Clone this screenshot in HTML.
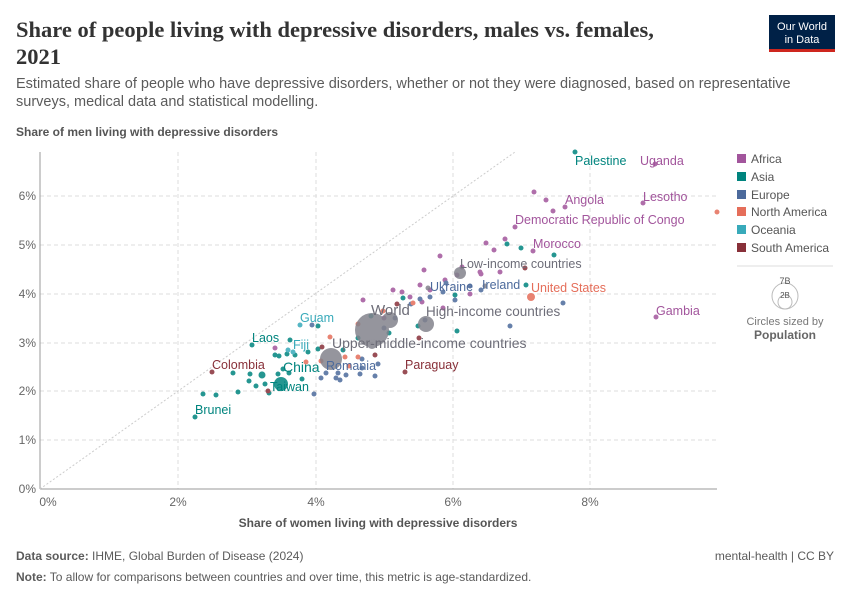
<!DOCTYPE html>
<html><head><meta charset="utf-8"><style>
body{margin:0;background:#fff;}
</style></head><body>
<svg width="850" height="600" viewBox="0 0 850 600" xmlns="http://www.w3.org/2000/svg" font-family="Liberation Sans, sans-serif">
<text x="16" y="37" style="font-family:'Liberation Serif',serif" font-size="22.5" font-weight="bold" fill="#333">Share of people living with depressive disorders, males vs. females,</text>
<text x="16" y="64" style="font-family:'Liberation Serif',serif" font-size="22.5" font-weight="bold" fill="#333">2021</text>
<rect x="769" y="15" width="66" height="37" fill="#002147"/>
<rect x="769" y="49" width="66" height="3" fill="#ce261e"/>
<text x="802" y="30" font-size="11" fill="#fff" text-anchor="middle">Our World</text>
<text x="802" y="43" font-size="11" fill="#fff" text-anchor="middle">in Data</text>
<text x="16" y="88" font-size="14.5" fill="#5b5b5b">Estimated share of people who have depressive disorders, whether or not they were diagnosed, based on representative</text>
<text x="16" y="106" font-size="14.5" fill="#5b5b5b">surveys, medical data and statistical modelling.</text>
<text x="16" y="136" font-size="12" font-weight="bold" fill="#555">Share of men living with depressive disorders</text>
<g stroke="#ddd" stroke-dasharray="4,3" stroke-width="1">
<line x1="40" y1="440" x2="717" y2="440"/><line x1="40" y1="391" x2="717" y2="391"/><line x1="40" y1="343" x2="717" y2="343"/><line x1="40" y1="294" x2="717" y2="294"/><line x1="40" y1="245" x2="717" y2="245"/><line x1="40" y1="196" x2="717" y2="196"/>
<line x1="178" y1="152" x2="178" y2="489"/><line x1="316" y1="152" x2="316" y2="489"/><line x1="453" y1="152" x2="453" y2="489"/><line x1="590" y1="152" x2="590" y2="489"/>
</g>
<line x1="40" y1="152" x2="40" y2="489" stroke="#999"/>
<line x1="40" y1="489" x2="717" y2="489" stroke="#999"/>
<line x1="40" y1="489" x2="515" y2="152" stroke="#ccc" stroke-dasharray="2,2"/>
<g font-size="12" fill="#666" text-anchor="end">
<text x="36" y="493">0%</text><text x="36" y="444">1%</text><text x="36" y="395">2%</text><text x="36" y="347">3%</text><text x="36" y="298">4%</text><text x="36" y="249">5%</text><text x="36" y="200">6%</text></g>
<g font-size="12" fill="#666" text-anchor="middle">
<text x="48" y="506">0%</text><text x="178" y="506">2%</text><text x="316" y="506">4%</text><text x="453" y="506">6%</text><text x="590" y="506">8%</text></g>
<text x="378" y="527" font-size="12" font-weight="bold" fill="#555" text-anchor="middle">Share of women living with depressive disorders</text>
<g opacity="0.85">
<g fill="#a2559c">
<circle cx="534" cy="192" r="2.5"/><circle cx="546" cy="200" r="2.5"/><circle cx="553" cy="211" r="2.5"/><circle cx="565" cy="207" r="2.5"/><circle cx="643" cy="203" r="2.5"/><circle cx="655" cy="164" r="2.5"/><circle cx="515" cy="227" r="2.5"/><circle cx="486" cy="243" r="2.5"/><circle cx="505" cy="239" r="2.5"/><circle cx="494" cy="250" r="2.5"/><circle cx="533" cy="251" r="2.5"/><circle cx="440" cy="256" r="2.5"/><circle cx="656" cy="317" r="2.5"/><circle cx="481" cy="274" r="2.5"/><circle cx="462" cy="267" r="2.5"/><circle cx="480" cy="272" r="2.5"/><circle cx="457" cy="275" r="2.5"/><circle cx="445" cy="280" r="2.5"/><circle cx="500" cy="272" r="2.5"/><circle cx="424" cy="270" r="2.5"/><circle cx="430" cy="290" r="2.5"/><circle cx="420" cy="285" r="2.5"/><circle cx="402" cy="292" r="2.5"/><circle cx="410" cy="297" r="2.5"/><circle cx="443" cy="308" r="2.5"/><circle cx="422" cy="302" r="2.5"/><circle cx="393" cy="290" r="2.5"/><circle cx="363" cy="300" r="2.5"/><circle cx="384" cy="318" r="2.5"/><circle cx="275" cy="348" r="2.5"/><circle cx="470" cy="294" r="2.5"/></g>
<g fill="#00847e">
<circle cx="575" cy="152" r="2.5"/><circle cx="507" cy="244" r="2.5"/><circle cx="521" cy="248" r="2.5"/><circle cx="554" cy="255" r="2.5"/><circle cx="526" cy="285" r="2.5"/><circle cx="455" cy="295" r="2.5"/><circle cx="403" cy="298" r="2.5"/><circle cx="371" cy="316" r="2.5"/><circle cx="418" cy="326" r="2.5"/><circle cx="457" cy="331" r="2.5"/><circle cx="318" cy="326" r="2.5"/><circle cx="318" cy="349" r="2.5"/><circle cx="252" cy="345" r="2.5"/><circle cx="290" cy="340" r="2.5"/><circle cx="287" cy="354" r="2.5"/><circle cx="275" cy="355" r="2.5"/><circle cx="295" cy="355" r="2.5"/><circle cx="283" cy="369" r="2.5"/><circle cx="278" cy="374" r="2.5"/><circle cx="289" cy="373" r="2.5"/><circle cx="279" cy="356" r="2.5"/><circle cx="233" cy="373" r="2.5"/><circle cx="250" cy="374" r="2.5"/><circle cx="256" cy="386" r="2.5"/><circle cx="249" cy="381" r="2.5"/><circle cx="238" cy="392" r="2.5"/><circle cx="216" cy="395" r="2.5"/><circle cx="269" cy="393" r="2.5"/><circle cx="195" cy="417" r="2.5"/><circle cx="262" cy="374" r="2.5"/><circle cx="265" cy="384" r="2.5"/><circle cx="302" cy="379" r="2.5"/><circle cx="343" cy="350" r="2.5"/><circle cx="358" cy="338" r="2.5"/><circle cx="389" cy="333" r="2.5"/><circle cx="203" cy="394" r="2.5"/><circle cx="308" cy="352" r="2.5"/></g>
<circle cx="281" cy="384" r="7" fill="#00847e"/>
<circle cx="262" cy="375" r="3.5" fill="#00847e"/>
<g fill="#4c6a9c">
<circle cx="312" cy="325" r="2.5"/><circle cx="384" cy="328" r="2.5"/><circle cx="395" cy="318" r="2.5"/><circle cx="446" cy="283" r="2.5"/><circle cx="455" cy="300" r="2.5"/><circle cx="481" cy="290" r="2.5"/><circle cx="470" cy="286" r="2.5"/><circle cx="563" cy="303" r="2.5"/><circle cx="510" cy="326" r="2.5"/><circle cx="443" cy="292" r="2.5"/><circle cx="430" cy="297" r="2.5"/><circle cx="411" cy="304" r="2.5"/><circle cx="425" cy="320" r="2.5"/><circle cx="326" cy="373" r="2.5"/><circle cx="340" cy="380" r="2.5"/><circle cx="338" cy="373" r="2.5"/><circle cx="321" cy="378" r="2.5"/><circle cx="346" cy="375" r="2.5"/><circle cx="360" cy="374" r="2.5"/><circle cx="375" cy="376" r="2.5"/><circle cx="314" cy="394" r="2.5"/><circle cx="336" cy="378" r="2.5"/><circle cx="362" cy="359" r="2.5"/><circle cx="378" cy="364" r="2.5"/><circle cx="362" cy="368" r="2.5"/><circle cx="420" cy="299" r="2.5"/></g>
<g fill="#e56e5a">
<circle cx="531" cy="297" r="4"/><circle cx="717" cy="212" r="2.5"/><circle cx="345" cy="357" r="2.5"/><circle cx="358" cy="357" r="2.5"/><circle cx="349" cy="366" r="2.5"/><circle cx="321" cy="361" r="2.5"/><circle cx="330" cy="337" r="2.5"/><circle cx="383" cy="311" r="2.5"/><circle cx="413" cy="303" r="2.5"/><circle cx="358" cy="324" r="2.5"/><circle cx="306" cy="362" r="2.5"/></g>
<g fill="#38aaba"><circle cx="300" cy="325" r="2.5"/><circle cx="288" cy="350" r="2.5"/><circle cx="293" cy="352" r="2.5"/></g>
<g fill="#883039">
<circle cx="212" cy="372" r="2.5"/><circle cx="405" cy="372" r="2.5"/><circle cx="268" cy="391" r="2.5"/><circle cx="322" cy="347" r="2.5"/><circle cx="375" cy="355" r="2.5"/><circle cx="419" cy="338" r="2.5"/><circle cx="397" cy="304" r="2.5"/><circle cx="525" cy="268" r="2.5"/></g>
<g fill="#6d6d78" opacity="0.85">
<circle cx="372" cy="330" r="17"/><circle cx="390" cy="320" r="8"/><circle cx="426" cy="324" r="8"/><circle cx="331" cy="359" r="11"/><circle cx="460" cy="273" r="6"/><circle cx="372" cy="344" r="5"/><circle cx="485" cy="286" r="2.5"/><circle cx="428" cy="288" r="2.5"/></g>
</g>
<g font-size="12.5">
<text x="575" y="165" fill="#00847e">Palestine</text>
<text x="640" y="165" fill="#a2559c">Uganda</text>
<text x="565" y="204" fill="#a2559c">Angola</text>
<text x="643" y="201" fill="#a2559c">Lesotho</text>
<text x="515" y="224" fill="#a2559c">Democratic Republic of Congo</text>
<text x="533" y="248" fill="#a2559c">Morocco</text>
<text x="460" y="268" fill="#6d6d78">Low-income countries</text>
<text x="430" y="291" fill="#4c6a9c">Ukraine</text>
<text x="482" y="289" fill="#4c6a9c">Ireland</text>
<text x="531" y="292" fill="#e56e5a">United States</text>
<text x="656" y="315" fill="#a2559c">Gambia</text>
<text x="426" y="316" fill="#6d6d78" font-size="13.5">High-income countries</text>
<text x="371" y="315" fill="#6d6d78" font-size="15">World</text>
<text x="332" y="348" fill="#6d6d78" font-size="14">Upper-middle-income countries</text>
<text x="300" y="322" fill="#38aaba">Guam</text>
<text x="252" y="342" fill="#00847e">Laos</text>
<text x="293" y="349" fill="#38aaba">Fiji</text>
<text x="212" y="369" fill="#883039">Colombia</text>
<text x="283" y="372" fill="#00847e" font-size="14">China</text>
<text x="326" y="370" fill="#4c6a9c">Romania</text>
<text x="405" y="369" fill="#883039">Paraguay</text>
<text x="270" y="391" fill="#00847e">Taiwan</text>
<text x="195" y="414" fill="#00847e">Brunei</text>
</g>
<g font-size="12" fill="#555">
<rect x="737" y="154" width="9" height="9" fill="#a2559c"/><text x="751" y="163">Africa</text>
<rect x="737" y="172" width="9" height="9" fill="#00847e"/><text x="751" y="181">Asia</text>
<rect x="737" y="190" width="9" height="9" fill="#4c6a9c"/><text x="751" y="199">Europe</text>
<rect x="737" y="207" width="9" height="9" fill="#e56e5a"/><text x="751" y="216">North America</text>
<rect x="737" y="225" width="9" height="9" fill="#38aaba"/><text x="751" y="234">Oceania</text>
<rect x="737" y="243" width="9" height="9" fill="#883039"/><text x="751" y="252">South America</text>
</g>
<line x1="737" y1="266" x2="833" y2="266" stroke="#ddd"/>
<circle cx="785" cy="296" r="13" fill="none" stroke="#bbb"/>
<circle cx="785" cy="302" r="7" fill="none" stroke="#bbb"/>
<text x="785" y="284" font-size="9" fill="#555" text-anchor="middle">7B</text>
<text x="785" y="298" font-size="8" fill="#555" text-anchor="middle">2B</text>
<text x="785" y="325" font-size="11" fill="#777" text-anchor="middle">Circles sized by</text>
<text x="785" y="339" font-size="12" font-weight="bold" fill="#666" text-anchor="middle">Population</text>
<text x="16" y="560" font-size="12" fill="#5b5b5b"><tspan font-weight="bold">Data source:</tspan> IHME, Global Burden of Disease (2024)</text>
<text x="834" y="560" font-size="12" fill="#5b5b5b" text-anchor="end">mental-health | CC BY</text>
<text x="16" y="581" font-size="12" fill="#5b5b5b"><tspan font-weight="bold">Note:</tspan> To allow for comparisons between countries and over time, this metric is age-standardized.</text>
</svg>
</body></html>
